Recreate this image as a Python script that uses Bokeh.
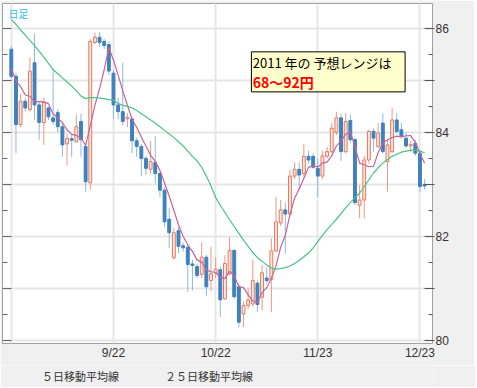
import pandas as pd
from bokeh.plotting import figure
from bokeh.layouts import column
from bokeh.models import (ColumnDataSource, FixedTicker, LinearAxis, Range1d,
                          Legend, LegendItem, Label, BoxAnnotation)
from bokeh.embed import file_html
from bokeh.resources import INLINE

# ---- data (USD/JPY daily, 2010-08-23 .. 2010-12-24, one entry per trading day) ----
opens = [85.60, 85.08, 84.15, 84.60, 84.44, 85.34, 84.53, 84.19, 84.47, 84.28,
         84.38, 84.11, 83.78, 83.88, 83.82, 84.21, 83.73, 83.03, 85.73, 85.83,
         85.75, 85.69, 85.14, 84.53, 84.40, 84.26, 84.26, 83.84, 83.73, 83.50,
         83.29, 83.42, 83.21, 82.89, 82.33, 81.59, 82.11, 81.82, 81.79, 81.47,
         81.42, 81.27, 81.60, 81.15, 81.30, 81.36, 80.80, 81.28, 81.73, 81.03,
         80.51, 80.67, 80.70, 81.10, 80.83, 81.20, 81.17, 81.72, 82.26, 82.51,
         82.43, 83.16, 83.29, 83.21, 83.54, 83.54, 83.31, 83.16, 83.54, 83.63,
         84.00, 84.28, 83.63, 84.23, 83.86, 82.60, 82.70, 83.47, 84.02, 83.73,
         84.18, 83.44, 83.63, 84.24, 84.05, 83.89, 83.74, 83.79, 83.60, 83.00]
highs = [85.66, 85.15, 84.75, 84.66, 85.44, 85.90, 84.57, 84.67, 84.50, 85.23,
         84.45, 84.18, 83.97, 83.97, 84.34, 84.36, 83.76, 85.80, 85.92, 85.93,
         85.80, 85.75, 85.20, 84.66, 85.34, 84.37, 84.30, 83.90, 83.78, 83.55,
         83.84, 83.93, 83.25, 82.95, 82.54, 82.16, 82.18, 81.88, 81.85, 81.55,
         81.47, 81.89, 81.65, 81.80, 81.60, 81.42, 81.64, 81.99, 81.75, 81.10,
         80.75, 81.00, 81.55, 81.15, 81.45, 81.40, 81.96, 82.76, 82.70, 82.65,
         83.28, 83.42, 83.42, 83.78, 83.65, 83.60, 83.50, 83.65, 83.72, 84.18,
         84.40, 84.36, 84.37, 84.34, 83.90, 82.99, 83.55, 84.05, 84.08, 84.18,
         84.37, 83.88, 84.47, 84.37, 84.18, 84.00, 83.83, 83.86, 83.65, 83.10]
lows = [85.03, 83.60, 84.10, 84.40, 84.40, 84.24, 83.86, 83.76, 84.24, 84.15,
        84.00, 83.53, 83.37, 83.53, 83.80, 83.53, 82.86, 82.90, 85.70, 85.65,
        85.60, 85.10, 84.26, 84.26, 84.13, 84.10, 83.60, 83.53, 83.16, 83.18,
        83.20, 83.02, 82.76, 82.18, 81.77, 81.55, 81.67, 81.70, 80.93, 80.96,
        81.20, 81.20, 80.86, 80.95, 81.20, 80.45, 80.78, 81.25, 80.80, 80.25,
        80.25, 80.60, 80.65, 80.55, 80.58, 81.10, 80.54, 81.70, 82.20, 81.67,
        82.40, 83.10, 82.90, 83.15, 83.40, 83.30, 82.76, 83.10, 83.50, 83.60,
        83.95, 83.45, 83.60, 83.80, 82.60, 82.35, 82.35, 83.40, 83.63, 83.70,
        83.60, 82.86, 83.60, 83.98, 83.90, 83.70, 83.62, 83.55, 82.86, 82.90]
closes = [85.08, 84.15, 84.60, 84.47, 85.18, 84.53, 84.19, 84.57, 84.30, 84.21,
          84.11, 83.76, 83.88, 83.85, 84.11, 83.86, 83.05, 85.75, 85.83, 85.73,
          85.67, 85.18, 84.53, 84.40, 84.21, 84.29, 83.84, 83.73, 83.50, 83.31,
          83.44, 83.21, 82.89, 82.28, 82.07, 82.07, 81.81, 81.78, 81.46, 81.44,
          81.25, 81.60, 81.03, 81.28, 81.37, 80.78, 81.48, 81.73, 80.84, 80.35,
          80.67, 80.78, 81.15, 80.69, 81.30, 81.15, 81.72, 82.28, 82.51, 82.43,
          83.16, 83.29, 83.18, 83.54, 83.47, 83.33, 83.16, 83.55, 83.63, 84.08,
          84.28, 83.63, 84.21, 83.86, 82.65, 82.70, 83.47, 84.02, 83.89, 83.99,
          83.63, 83.76, 84.24, 84.02, 83.92, 83.74, 83.77, 83.60, 82.96, 82.97]
pre_closes = [85.30, 85.20, 85.25, 85.30]   # closes before the first visible day
ma25 = [86.17, 86.08, 85.97, 85.87, 85.77, 85.67, 85.56, 85.45, 85.33, 85.21,
        85.13, 85.05, 84.97, 84.89, 84.80, 84.70, 84.65, 84.67, 84.67, 84.66,
        84.65, 84.63, 84.62, 84.56, 84.52, 84.50, 84.47, 84.42, 84.36, 84.30,
        84.24, 84.18, 84.11, 84.04, 83.97, 83.90, 83.82, 83.74, 83.64, 83.54,
        83.45, 83.33, 83.16, 82.97, 82.75, 82.60, 82.46, 82.32, 82.19, 82.06,
        81.93, 81.81, 81.69, 81.59, 81.52, 81.45, 81.39, 81.37, 81.38, 81.40,
        81.43, 81.48, 81.54, 81.61, 81.68, 81.78, 81.90, 82.02, 82.13, 82.23,
        82.33, 82.44, 82.55, 82.65, 82.74, 82.83, 82.96, 83.09, 83.22, 83.32,
        83.41, 83.48, 83.54, 83.58, 83.62, 83.64, 83.66, 83.66, 83.64, 83.61]
tick_idx = [22, 44, 66, 88]
tick_labels = ["9/22", "10/22", "11/23", "12/23"]
grid_idx = [0, 22, 44, 66, 88]
y_ticks = [80, 81, 82, 83, 84, 85, 86]
y_minor = [80.5, 81.5, 82.5, 83.5, 84.5, 85.5]
y_labels = {80: "80", 81: "", 82: "82", 83: "", 84: "84", 85: "", 86: "86"}
legend_labels = ["５日移動平均線", "２５日移動平均線"]

# ---- derived ----
n = len(closes)
idx = list(range(n))
ma5 = pd.Series(pre_closes + closes).rolling(5).mean().tolist()[len(pre_closes):]
up = [c >= o for o, c in zip(opens, closes)]

df = pd.DataFrame(dict(x=idx, o=opens, h=highs, l=lows, c=closes,
                       top=[max(o, c) for o, c in zip(opens, closes)],
                       bot=[min(o, c) for o, c in zip(opens, closes)]))
src_up = ColumnDataSource(df[[u for u in up]])
src_dn = ColumnDataSource(df[[not u for u in up]])
src_ma = ColumnDataSource(dict(x=idx, ma5=ma5, ma25=ma25))

JP = "Noto Sans CJK JP"
LAT = "Liberation Sans"
BG = "#f0f0f0"
C5, C25 = "#c8649a", "#4cc285"

p = figure(frame_width=430, frame_height=340, output_backend="svg", toolbar_location=None,
           x_range=Range1d(-1.9, 90.7), y_range=Range1d(79.94, 86.48),
           y_axis_location="right", min_border_left=2, min_border_top=3,
           min_border_right=42, min_border_bottom=22)
p.background_fill_color = "white"
p.border_fill_color = BG
p.outline_line_color = "#a0a0a0"
p.outline_line_width = 1

# grids
p.xgrid.ticker = FixedTicker(ticks=grid_idx)
p.ygrid.ticker = FixedTicker(ticks=y_ticks)
for g in (p.xgrid[0], p.ygrid[0]):
    g.grid_line_color = "#e6e6e6"
    g.grid_line_width = 2

# x axis
xa = p.xaxis[0]
xa.ticker = FixedTicker(ticks=tick_idx)
xa.major_label_overrides = {t: lab for t, lab in zip(tick_idx, tick_labels)}
xa.major_tick_in = 0
xa.major_tick_out = 0
xa.minor_tick_line_color = None
xa.axis_line_color = None
xa.major_label_text_font = LAT
xa.major_label_text_font_size = "12px"
xa.major_label_text_color = "#333333"
xa.major_label_standoff = 2

# right y axis
ya = p.yaxis[0]
ya.ticker = FixedTicker(ticks=y_ticks, minor_ticks=y_minor)
ya.major_label_overrides = y_labels
ya.major_tick_in = 8
ya.major_tick_out = 2
ya.minor_tick_in = 4
ya.minor_tick_out = 0
ya.axis_line_color = None
ya.major_tick_line_color = "#555555"
ya.minor_tick_line_color = "#555555"
ya.major_label_text_font = LAT
ya.major_label_text_font_size = "12px"
ya.major_label_text_color = "#333333"
ya.major_label_standoff = 1

# left axis: ticks only
la = LinearAxis(ticker=FixedTicker(ticks=y_ticks, minor_ticks=y_minor),
                major_label_overrides={t: "" for t in y_ticks},
                major_tick_in=9, major_tick_out=0, minor_tick_in=5, minor_tick_out=0,
                axis_line_color=None, major_label_standoff=0,
                major_tick_line_color="#666666", minor_tick_line_color="#666666",
                major_label_text_font_size="1px")
p.add_layout(la, "left")

# candles
p.segment("x", "h", "x", "l", source=src_dn, line_color="#8fb8dc", line_width=1)
p.segment("x", "h", "x", "l", source=src_up, line_color="#ec9a84", line_width=1)
p.vbar(x="x", top="top", bottom="bot", width=0.62, source=src_dn,
       fill_color="#3f80bd", line_color="#3f80bd", line_width=1)
p.vbar(x="x", top="top", bottom="bot", width=0.62, source=src_up,
       fill_color="#fde8e1", line_color="#e4795c", line_width=1)

# moving averages
p.line("x", "ma5", source=src_ma, line_color=C5, line_width=1.2)
p.line("x", "ma25", source=src_ma, line_color=C25, line_width=1.2)

# annotations
p.add_layout(Label(x=-0.6, y=86.43, text="日足", text_color="#33bbee",
                   text_font=JP, text_font_size="10px", text_baseline="top"))
p.add_layout(BoxAnnotation(left=51.7, right=84.8, top=85.55, bottom=84.78,
                           fill_color="#ffffcc", fill_alpha=1.0,
                           line_color="black", line_width=1, line_alpha=1.0))
p.add_layout(Label(x=52.0, y=85.52, text="2011 年の 予想レンジは", text_color="black",
                   text_font=JP, text_font_size="13px", text_baseline="top"))
p.add_layout(Label(x=52.0, y=85.17, text="68～92円", text_color="#ff0000",
                   text_font=JP, text_font_size="14px", text_font_style="bold",
                   text_baseline="top"))

# legend strip below the chart
pl = figure(width=475, height=22, output_backend="svg", toolbar_location=None,
            min_border=0)
pl.axis.visible = False
pl.grid.visible = False
pl.outline_line_color = None
pl.background_fill_color = BG
pl.border_fill_color = BG
k5 = pl.line([], [], line_color=C5, line_width=1.2)
k25 = pl.line([], [], line_color=C25, line_width=1.2)
legend = Legend(items=[LegendItem(label=legend_labels[0], renderers=[k5]),
                       LegendItem(label=legend_labels[1], renderers=[k25])],
                orientation="horizontal", location="left",
                background_fill_alpha=0, border_line_alpha=0,
                label_text_font=JP, label_text_font_size="11px",
                label_text_color="#333333", glyph_width=20, glyph_height=10,
                label_height=10, spacing=18, padding=0, margin=12,
                label_standoff=8)
pl.add_layout(legend)

layout = column(p, pl, spacing=0)
open("out.html", "w").write(file_html(layout, INLINE))
